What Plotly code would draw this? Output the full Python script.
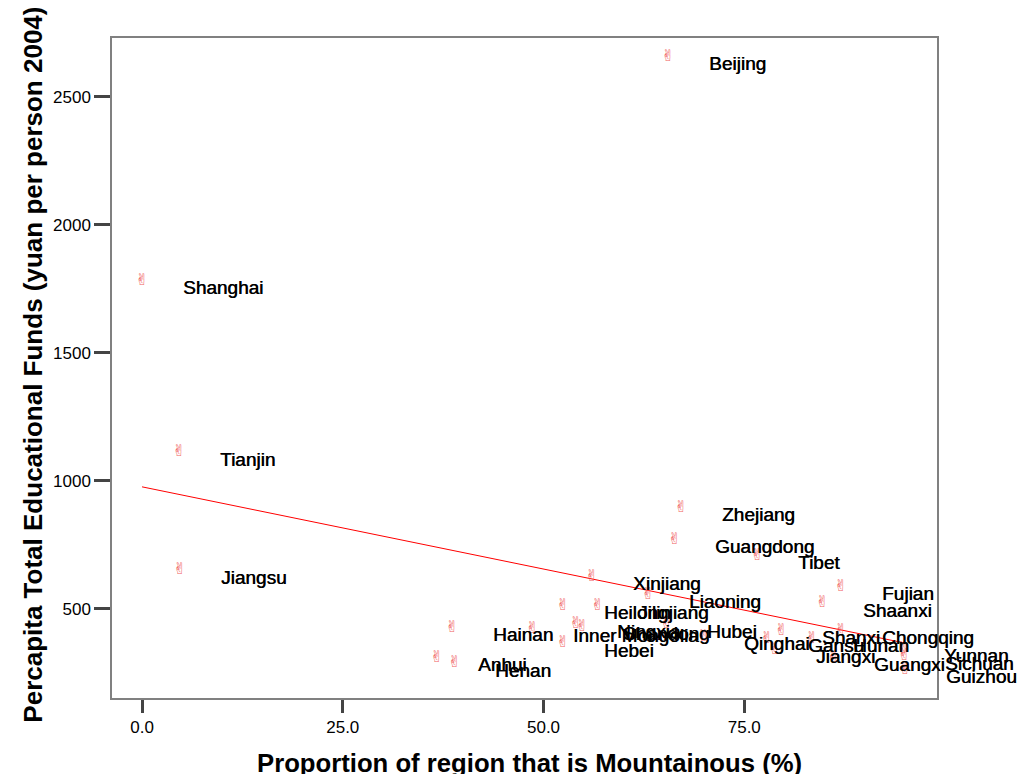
import plotly.graph_objects as go

regions = ["Beijing", "Shanghai", "Tianjin", "Jiangsu", "Zhejiang", "Guangdong", "Tibet",
           "Xinjiang", "Fujian", "Shaanxi", "Liaoning", "Heilongjiang", "Jilin", "Hainan",
           "Inner Mongolia", "Ningxia", "Shandong", "Hebei", "Hubei", "Qinghai", "Shanxi",
           "Gansu", "Hunan", "Jiangxi", "Chongqing", "Guangxi", "Yunnan", "Sichuan",
           "Guizhou", "Anhui", "Henan"]
mountainous = [65.5, 0.0, 4.6, 4.7, 67.1, 66.3, 76.6,
               56.0, 87.0, 84.7, 63.0, 52.4, 56.7, 38.6,
               48.6, 54.0, 54.8, 52.4, 65.3, 69.9, 79.6,
               77.8, 83.4, 78.8, 87.0, 86.1, 94.8, 94.9,
               95.0, 36.7, 38.9]
funds = [2656, 1781, 1113, 652, 895, 770, 707,
         625, 586, 523, 555, 512, 512, 426,
         422, 441, 430, 367, 441, 391, 414,
         383, 383, 340, 414, 309, 344, 316,
         262, 309, 289]

# fit line (ends at min and max of x)
fit_x = [0.0, 95.0]
fit_y = [977, 367]

x_ticks = [0, 25, 50, 75]
x_tick_text = ["0.0", "25.0", "50.0", "75.0"]
y_ticks = [500, 1000, 1500, 2000, 2500]

fig = go.Figure()
fig.add_trace(go.Scatter(x=fit_x, y=fit_y, mode="lines",
                         line=dict(color="#ff0000", width=1), hoverinfo="skip",
                         showlegend=False))
fig.add_trace(go.Scatter(x=mountainous, y=funds, mode="text", text=["✌"] * len(regions),
                         textposition="middle center",
                         textfont=dict(family="DejaVu Sans", size=16, color="#f06060"),
                         hovertext=regions, showlegend=False))

label_font = dict(family="Liberation Sans, Arial", size=19, color="#000000",
                  shadow="0.5px 0px 0px #000000")
annotations = []
for name, xv, yv in zip(regions, mountainous, funds):
    annotations.append(dict(x=xv, y=yv, xref="x", yref="y", text=name, showarrow=False,
                            xanchor="left", yanchor="middle", xshift=39, yshift=-7,
                            font=label_font))

annotations.append(dict(x=0.506, y=-0.0985, xref="paper", yref="paper",
                        text="<b>Proportion of region that is Mountainous (%)</b>",
                        showarrow=False, xanchor="center", yanchor="middle",
                        font=dict(family="Liberation Sans, Arial", size=25.7, color="#000000")))
annotations.append(dict(x=-0.0958, y=0.505, xref="paper", yref="paper",
                        text="<b>Percapita Total Educational Funds (yuan per person 2004)</b>",
                        showarrow=False, xanchor="center", yanchor="middle", textangle=-90,
                        font=dict(family="Liberation Sans, Arial", size=26, color="#000000")))

fig.update_layout(
    width=1017, height=774,
    margin=dict(l=112, r=80, t=38, b=76),
    paper_bgcolor="white", plot_bgcolor="white",
    annotations=annotations,
    showlegend=False,
)
fig.update_xaxes(range=[-3.74, 99.0], tickvals=x_ticks, ticktext=x_tick_text,
                 showgrid=False, zeroline=False, showline=True, mirror=True,
                 linecolor="#808080", linewidth=1.5,
                 ticks="outside", ticklen=13, tickwidth=3, tickcolor="#444444",
                 tickfont=dict(family="Liberation Sans, Arial", size=17, color="#000000"))
fig.update_yaxes(range=[152.3, 2730], tickvals=y_ticks,
                 showgrid=False, zeroline=False, showline=True, mirror=True,
                 linecolor="#808080", linewidth=1.5,
                 ticks="outside", ticklen=16, tickwidth=3, tickcolor="#444444",
                 tickfont=dict(family="Liberation Sans, Arial", size=17, color="#000000"))

fig.write_html("out.html",
               config={"displayModeBar": False},
               post_script="document.body.style.margin='0';"
                           "document.documentElement.style.overflow='hidden';"
                           "document.body.style.overflow='hidden';")
